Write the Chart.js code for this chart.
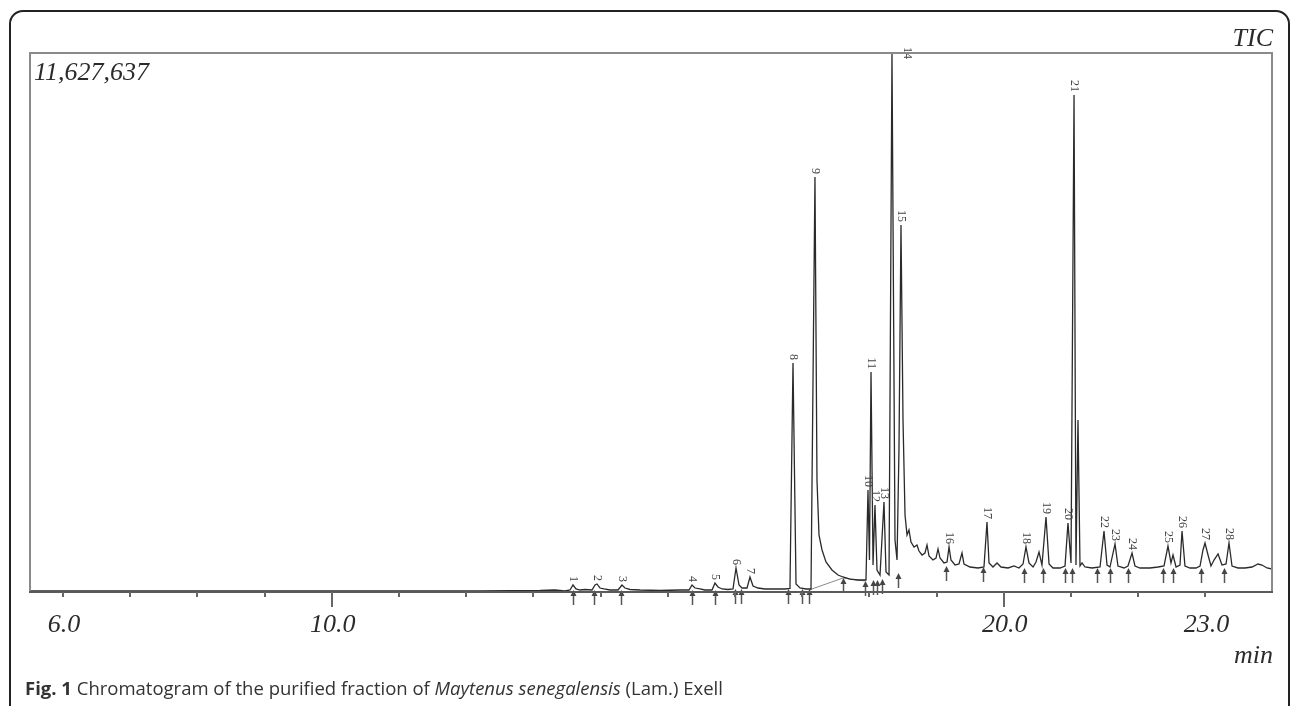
<!DOCTYPE html>
<html>
<head>
<meta charset="utf-8">
<script src="https://cdn.jsdelivr.net/npm/chart.js@4.4.1/dist/chart.umd.min.js"></script>
<style>
  html, body { margin: 0; padding: 0; background: #fff; overflow: hidden; }
  #wrap { position: relative; width: 1295px; height: 706px; overflow: hidden; }
  #frame { position: absolute; left: 9px; top: 10px; width: 1281px; height: 760px;
           border: 2px solid #222; border-radius: 14px; box-sizing: border-box; }
  canvas { position: absolute; left: 0; top: 0; }
  #caption { position: absolute; left: 25px; top: 676px; font-family: "Open Sans", sans-serif;
             font-size: 18.5px; line-height: 24px; color: #333; white-space: nowrap; }
  #caption b { font-weight: 700; }
</style>
</head>
<body>
<div id="wrap">
  <div id="frame"></div>
  <canvas id="c" width="1295" height="706"></canvas>
  <div id="caption"><b>Fig. 1</b> Chromatogram of the purified fraction of <i>Maytenus senegalensis</i> (Lam.) Exell</div>
</div>
<script>
// ---- data (retention time in min, intensity in counts) ----
const fullScale = 11627637;
const timeRange = [5.509, 23.991];

const times = [5.51, 6.55, 8.04, 9.53, 11.01, 12.21, 13.10, 13.32, 13.47, 13.545, 13.589, 13.634, 13.693, 13.768,
  13.872, 13.917, 13.946, 13.991, 14.051, 14.140, 14.259, 14.318, 14.363, 14.438, 14.586, 14.884, 15.182,
  15.315, 15.360, 15.405, 15.479, 15.554, 15.658, 15.702, 15.747, 15.807, 15.896, 15.970, 16.015, 16.060,
  16.104, 16.179, 16.223, 16.268, 16.342, 16.446, 16.595, 16.744, 16.818, 16.863, 16.908, 16.967, 17.057,
  17.131, 17.190, 17.220, 17.250, 17.295, 17.354, 17.443, 17.533, 17.607, 17.711, 17.830, 17.920, 17.949,
  17.979, 18.001, 18.024, 18.054, 18.083, 18.113, 18.158, 18.217, 18.247, 18.292, 18.336, 18.381, 18.411,
  18.440, 18.470, 18.500, 18.530, 18.560, 18.589, 18.619, 18.664, 18.708, 18.738, 18.783, 18.827, 18.857,
  18.887, 18.946, 18.991, 19.021, 19.051, 19.110, 19.155, 19.185, 19.214, 19.274, 19.333, 19.378, 19.408,
  19.497, 19.616, 19.705, 19.750, 19.780, 19.839, 19.899, 19.958, 20.063, 20.152, 20.226, 20.286, 20.330,
  20.375, 20.435, 20.479, 20.524, 20.568, 20.628, 20.673, 20.732, 20.836, 20.911, 20.955, 21.000, 21.045,
  21.074, 21.104, 21.134, 21.164, 21.208, 21.313, 21.432, 21.491, 21.536, 21.580, 21.655, 21.699, 21.789,
  21.848, 21.908, 21.952, 22.027, 22.176, 22.295, 22.384, 22.443, 22.488, 22.518, 22.563, 22.622, 22.652,
  22.696, 22.771, 22.860, 22.920, 22.964, 22.994, 23.039, 23.083, 23.128, 23.188, 23.247, 23.307, 23.351,
  23.396, 23.485, 23.589, 23.693, 23.783, 23.842, 23.917, 23.991];

const intensities = [22000, 22000, 22000, 22000, 22000, 22000, 32000, 43000, 22000, 43000, 151000, 65000, 43000, 54000,
  43000, 151000, 173000, 86000, 65000, 43000, 43000, 151000, 86000, 54000, 43000, 32000, 43000,
  43000, 151000, 86000, 65000, 43000, 43000, 194000, 108000, 65000, 54000, 65000, 518000, 151000,
  86000, 86000, 324000, 129000, 86000, 65000, 65000, 65000, 76000, 4940000, 173000, 86000, 65000,
  65000, 8953000, 2416000, 1230000, 906000, 647000, 475000, 367000, 324000, 280000, 259000, 259000, 259000,
  2200000, 690000, 4746000, 582000, 1877000, 475000, 367000, 1942000, 431000, 367000, 11627637, 1122000, 690000,
  3063000, 7917000, 3711000, 1661000, 1230000, 1338000, 1079000, 971000, 1014000, 884000, 798000, 841000, 1014000,
  777000, 690000, 733000, 928000, 733000, 626000, 647000, 971000, 690000, 582000, 604000, 841000, 604000,
  539000, 518000, 539000, 1510000, 626000, 539000, 626000, 539000, 518000, 561000, 518000, 604000, 971000,
  626000, 539000, 647000, 863000, 582000, 1618000, 604000, 518000, 518000, 561000, 1489000, 626000, 10722000,
  582000, 3711000, 561000, 626000, 539000, 518000, 539000, 1316000, 582000, 539000, 1036000, 561000, 518000,
  561000, 841000, 561000, 518000, 518000, 539000, 561000, 992000, 626000, 798000, 539000, 582000, 1316000,
  561000, 518000, 518000, 561000, 906000, 1057000, 798000, 561000, 690000, 820000, 582000, 604000, 1057000,
  561000, 518000, 518000, 539000, 604000, 582000, 518000, 496000];

// integration baseline drawn under peak 9's tail
const baseTimes = [17.101, 17.607, 17.935];
const baseLevels = [43000, 302000, 237000];

// numbered peaks
const peakNumbers = ['1','2','3','4','5','6','7','8','9','10','11','12','13','14','15','16','17','18','19','20','21','22','23','24','25','26','27','28'];
const peakTimes = [13.589, 13.946, 14.318, 15.360, 15.702, 16.015, 16.223, 16.863, 17.190, 17.979, 18.024, 18.083, 18.217, 18.336,
  18.470, 19.185, 19.750, 20.330, 20.628, 20.955, 21.045, 21.491, 21.655, 21.908, 22.443, 22.652, 22.994, 23.351];
const peakHeights = [151000, 173000, 151000, 151000, 194000, 518000, 324000, 4940000, 8953000, 2200000, 4746000, 1877000, 1942000, 11627637,
  7917000, 971000, 1510000, 971000, 1618000, 1489000, 10722000, 1316000, 1036000, 841000, 992000, 1316000, 1057000, 1057000];

// integration markers (arrows) : time and baseline level
const arrowTimes = [13.589, 13.902, 14.304, 15.360, 15.702, 16.000, 16.089, 16.789, 16.997, 17.101, 17.607, 17.935, 18.054, 18.113,
  18.188, 18.426, 19.140, 19.690, 20.301, 20.583, 20.911, 21.015, 21.387, 21.580, 21.848, 22.369, 22.518, 22.935, 23.277];
const arrowLevels = [43000, 43000, 43000, 43000, 43000, 65000, 65000, 65000, 65000, 65000, 302000, 237000, 259000, 259000,
  280000, 410000, 561000, 539000, 518000, 518000, 518000, 518000, 518000, 518000, 518000, 518000, 518000, 518000, 518000];

// x axis
const tickMinutes = [6,7,8,9,10,11,12,13,14,15,16,17,18,19,20,21,22,23];
const majorTicks = [10, 20];
const tickLabels = ['6.0', '10.0', '20.0', '23.0'];
const tickLabelValues = [6, 10, 20, 23];
const intensityLabel = '11,627,637';
const traceName = 'TIC';
const xUnit = 'min';

const signal = times.map((t, i) => ({ x: t, y: intensities[i] }));
const baseLine = baseTimes.map((t, i) => ({ x: t, y: baseLevels[i] }));

const decor = {
  id: 'decor',
  afterDatasetsDraw(chart) {
    const { ctx, chartArea: a, scales: { x, y } } = chart;
    ctx.save();
    // peak labels
    ctx.fillStyle = '#444';
    ctx.font = '12px "Liberation Serif", serif';
    peakNumbers.forEach((lab, i) => {
      const px = x.getPixelForValue(peakTimes[i]);
      const py = y.getPixelForValue(peakHeights[i]);
      const w = ctx.measureText(lab).width;
      ctx.save();
      if (py - 3 - w < a.top) {
        ctx.translate(px + 15, a.top - 6);
        ctx.rotate(Math.PI / 2);
        ctx.textAlign = 'left';
      } else {
        ctx.translate(px + 0.5, py - 3);
        ctx.rotate(Math.PI / 2);
        ctx.textAlign = 'right';
      }
      ctx.textBaseline = 'middle';
      ctx.fillText(lab, 0, 0);
      ctx.restore();
    });
    // arrows
    ctx.strokeStyle = '#555';
    ctx.fillStyle = '#444';
    ctx.lineWidth = 1.5;
    arrowTimes.forEach((t, i) => {
      const px = Math.round(x.getPixelForValue(t)) + 0.5;
      const py = y.getPixelForValue(arrowLevels[i]);
      ctx.beginPath();
      ctx.moveTo(px, py + 3);
      ctx.lineTo(px, py + 15);
      ctx.stroke();
      ctx.beginPath();
      ctx.moveTo(px, py);
      ctx.lineTo(px - 3, py + 6);
      ctx.lineTo(px + 3, py + 6);
      ctx.closePath();
      ctx.fill();
    });
    // frame
    ctx.lineWidth = 2;
    ctx.strokeStyle = '#8a8a8a';
    ctx.beginPath();
    ctx.moveTo(a.left, a.bottom);
    ctx.lineTo(a.left, a.top);
    ctx.lineTo(a.right, a.top);
    ctx.lineTo(a.right, a.bottom);
    ctx.stroke();
    ctx.strokeStyle = '#5a5a5a';
    ctx.beginPath();
    ctx.moveTo(a.left - 1, a.bottom);
    ctx.lineTo(a.right + 1, a.bottom);
    ctx.stroke();
    // ticks
    ctx.strokeStyle = '#666';
    ctx.lineWidth = 2;
    tickMinutes.forEach(m => {
      const px = Math.round(x.getPixelForValue(m));
      const len = majorTicks.includes(m) ? 15 : 5;
      ctx.beginPath();
      ctx.moveTo(px, a.bottom);
      ctx.lineTo(px, a.bottom + len);
      ctx.stroke();
    });
    // texts
    ctx.fillStyle = '#2b2b2b';
    ctx.font = 'italic 26px "Liberation Serif", serif';
    ctx.textBaseline = 'alphabetic';
    ctx.textAlign = 'center';
    tickLabels.forEach((lab, i) => {
      ctx.fillText(lab, x.getPixelForValue(tickLabelValues[i]) + 1, a.bottom + 40);
    });
    ctx.textAlign = 'left';
    ctx.fillText(intensityLabel, a.left + 4, a.top + 27);
    ctx.textAlign = 'right';
    ctx.fillText(traceName, a.right + 1, a.top - 7);
    ctx.fillText(xUnit, a.right + 1, a.bottom + 71);
    ctx.restore();
  }
};

new Chart(document.getElementById('c'), {
  type: 'line',
  data: {
    datasets: [
      { data: signal, borderColor: '#2a2a2a', borderWidth: 1.3, pointRadius: 0, tension: 0, fill: false },
      { data: baseLine, borderColor: '#8a8a8a', borderWidth: 1, pointRadius: 0, tension: 0, fill: false }
    ]
  },
  options: {
    responsive: false,
    animation: false,
    devicePixelRatio: 1,
    layout: { padding: { left: 30, right: 23, top: 53, bottom: 114 } },
    scales: {
      x: { type: 'linear', min: timeRange[0], max: timeRange[1], display: false },
      y: { type: 'linear', min: 0, max: fullScale, display: false }
    },
    plugins: { legend: { display: false }, tooltip: { enabled: false } }
  },
  plugins: [decor]
});
</script>
</body>
</html>
